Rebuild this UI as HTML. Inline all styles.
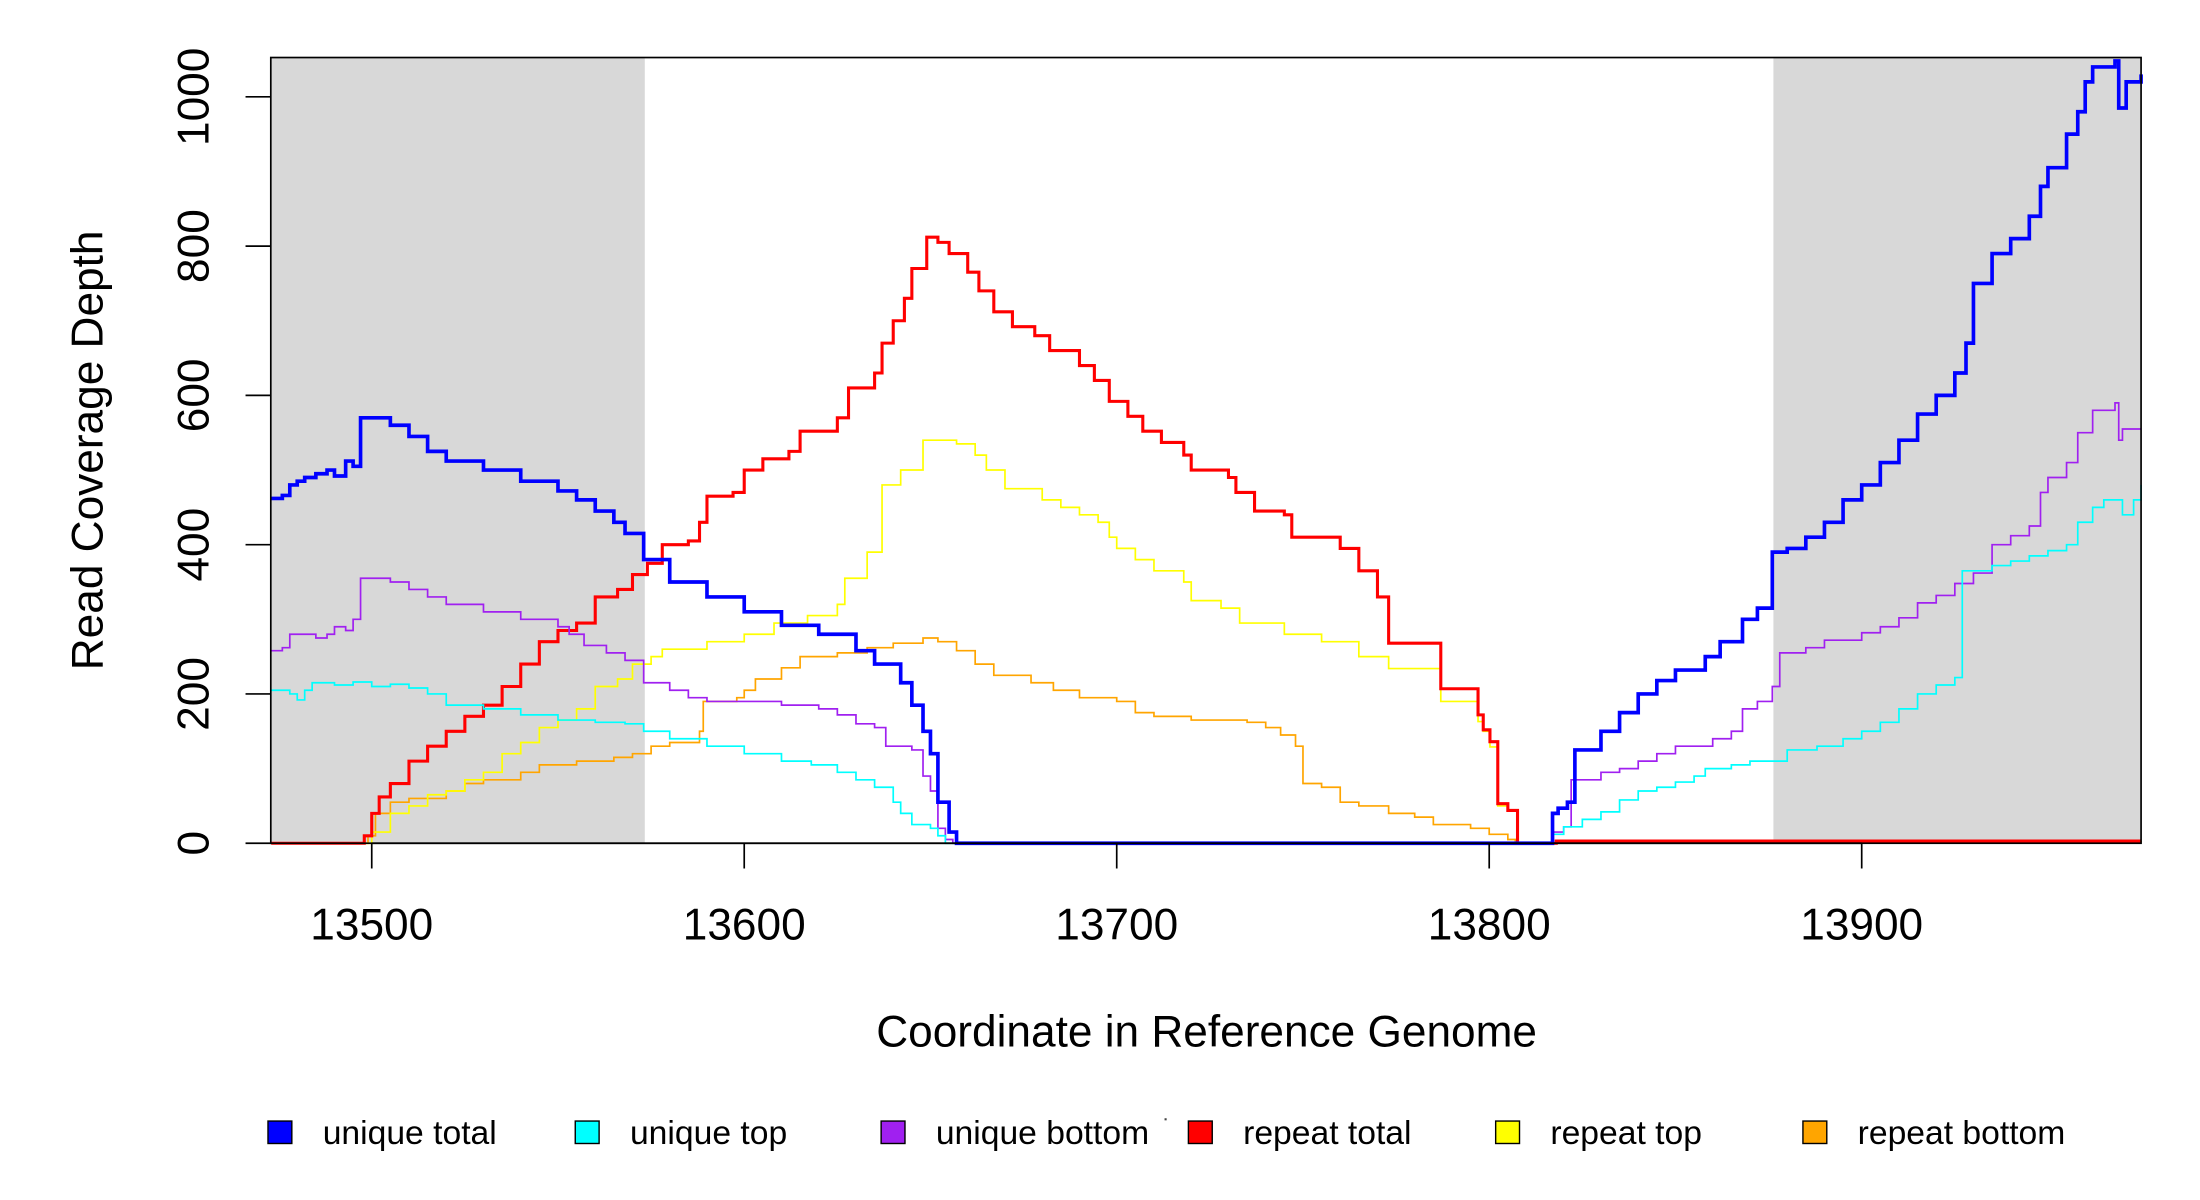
<!DOCTYPE html>
<html><head><meta charset="utf-8"><style>
html,body{margin:0;padding:0;background:#fff;}
svg{display:block;font-family:"Liberation Sans",Arial,sans-serif;}
</style></head><body>
<svg id="chart" width="2200" height="1200" viewBox="0 0 1568 855.27" xmlns="http://www.w3.org/2000/svg">
<g id="bg"></g><g id="series"></g><g id="axes"></g><g id="legend"></g>
</svg>
<script>
const xTicks=[13500,13600,13700,13800,13900];
const yTicks=[0,200,400,600,800,1000];
const shadedRegions=[[13473,13573.3],[13876.3,13975]];
const seriesNames=["unique total","unique top","unique bottom","repeat total","repeat top","repeat bottom"];
const seriesColors=["#0000ff","#00ffff","#a020f0","#ff0000","#ffff00","#ffa500"];
const uniqueTotalX=[13473,13476,13478,13480,13482,13485,13488,13490,13493,13495,13497,13505,13510,13515,13520,13530,13540,13550,13555,13560,13565,13568,13573,13580,13590,13600,13610,13620,13630,13635,13642,13645,13648,13650,13652,13655,13657,13817,13818.5,13821,13823,13830,13835,13840,13845,13850,13858,13862,13868,13872,13876,13880,13885,13890,13895,13900,13905,13910,13915,13920,13925,13928,13930,13935,13940,13945,13948,13950,13955,13958,13960,13962,13968,13969,13971,13975];
const uniqueTotalY=[462,466,480,485,490,495,500,492,512,505,570,560,545,525,512,500,485,472,460,445,430,415,380,350,330,310,292,280,258,240,215,185,150,120,55,15,0,40,47,55,125,150,175,200,218,232,250,270,300,315,390,395,410,430,460,480,510,540,575,600,630,670,750,790,810,840,880,905,950,980,1020,1040,1048,985,1020,1030];
const uniqueTopX=[13473,13478,13480,13482,13484,13490,13495,13500,13505,13510,13515,13520,13530,13540,13550,13560,13568,13573,13580,13590,13600,13610,13618,13625,13630,13635,13640,13642,13645,13650,13652,13654,13817,13820,13825,13830,13835,13840,13845,13850,13855,13858,13865,13870,13880,13888,13895,13900,13905,13910,13915,13920,13925,13927,13935,13940,13945,13950,13955,13958,13962,13965,13969,13970,13973,13975];
const uniqueTopY=[205,200,192,205,215,212,216,210,213,208,200,185,180,172,165,162,160,150,140,130,120,110,105,95,85,75,55,40,25,20,10,0,12,22,32,42,58,70,75,82,90,100,105,110,125,130,140,150,162,180,200,212,222,365,372,378,385,392,400,430,450,460,460,440,460,480];
const uniqueBottomX=[13473,13476,13478,13485,13488,13490,13493,13495,13497,13505,13510,13515,13520,13530,13540,13550,13553,13557,13563,13568,13573,13580,13585,13590,13600,13610,13620,13625,13630,13635,13638,13645,13648,13650,13652,13654,13656,13817,13820,13822,13830,13835,13840,13845,13850,13860,13865,13868,13872,13876,13878,13885,13890,13900,13905,13910,13915,13920,13925,13930,13935,13940,13945,13948,13950,13955,13958,13962,13968,13969,13970,13975];
const uniqueBottomY=[258,262,280,275,280,290,285,300,355,350,340,330,320,310,300,290,280,265,255,245,215,205,195,190,190,185,180,172,160,155,130,125,90,70,20,5,0,15,22,85,95,100,110,120,130,140,150,180,190,210,255,262,272,282,290,302,322,332,348,362,400,412,425,470,490,510,550,580,590,540,555,555];
const repeatTotalX=[13473,13498,13500,13502,13505,13510,13515,13520,13525,13530,13535,13540,13545,13550,13555,13560,13566,13570,13574,13578,13585,13588,13590,13597,13600,13605,13612,13615,13625,13628,13635,13637,13640,13643,13645,13649,13652,13655,13660,13663,13667,13672,13678,13682,13690,13694,13698,13703,13707,13712,13718,13720,13730,13732,13737,13745,13747,13760,13765,13770,13773,13787,13797,13798.4,13800.2,13802.3,13805,13807.6,13818,13975];
const repeatTotalY=[0,10,40,62,80,110,130,150,170,185,210,240,270,285,295,330,340,360,375,400,405,430,465,470,500,515,525,552,570,610,630,670,700,730,770,812,805,790,765,740,712,692,680,660,640,620,592,572,552,537,520,500,490,470,445,440,410,395,365,330,268,207,172,152,136,53,44,0,3,3];
const repeatTopX=[13473,13500,13505,13510,13515,13520,13525,13530,13535,13540,13545,13550,13555,13560,13566,13570,13575,13578,13590,13600,13608,13617,13625,13627,13633,13637,13642,13648,13657,13662,13665,13670,13680,13685,13690,13695,13698,13700,13705,13710,13718,13720,13728,13733,13745,13755,13765,13773,13787,13797,13798.4,13800.2,13802.3,13805,13807.6,13818,13975];
const repeatTopY=[0,15,40,50,65,70,85,95,120,135,155,165,180,210,220,240,250,260,270,280,295,305,320,355,390,480,500,540,535,520,500,475,460,450,440,430,410,395,380,365,350,325,315,295,280,270,250,234,190,163,150,129,50,43,0,2,2];
const repeatBottomX=[13473,13499,13501,13505,13510,13520,13525,13530,13540,13545,13555,13565,13570,13575,13580,13588,13589,13598,13600,13603,13610,13615,13625,13633,13640,13648,13652,13657,13662,13667,13677,13683,13690,13700,13705,13710,13720,13735,13740,13744,13748,13750,13755,13760,13765,13773,13780,13785,13795,13800,13805,13807,13818,13975];
const repeatBottomY=[0,10,40,55,60,70,80,85,95,105,110,115,120,130,135,150,190,195,205,220,235,250,255,262,268,275,270,258,240,225,215,205,195,190,175,170,165,162,155,145,130,80,75,55,50,40,35,25,20,12,5,0,2,1];

const NS="http://www.w3.org/2000/svg";
const PL=193,PR=1526,PT=41,PB=601;
const XMIN=13472.9,XMAX=13975;
function sx(v){return PL+(v-XMIN)/(XMAX-XMIN)*(PR-PL);}
function sy(v){return PB-v*0.532;}
function mk(tag,attrs,parent){const e=document.createElementNS(NS,tag);for(const k in attrs)e.setAttribute(k,attrs[k]);parent.appendChild(e);return e;}
const bg=document.getElementById('bg'),sg=document.getElementById('series'),ax=document.getElementById('axes'),lg=document.getElementById('legend');

shadedRegions.forEach((r,i)=>{
  const e=mk('rect',{x:sx(r[0]),y:PT,width:sx(r[1])-sx(r[0]),height:PB-PT,fill:'#d8d8d8'},bg);
  
  
});
const allX=[uniqueTotalX,uniqueTopX,uniqueBottomX,repeatTotalX,repeatTopX,repeatBottomX];
const allY=[uniqueTotalY,uniqueTopY,uniqueBottomY,repeatTotalY,repeatTopY,repeatBottomY];
const widths=[2.6,1.2,1.2,2.2,1.2,1.2];
const order=[5,4,3,2,1,0];
order.forEach(i=>{
  const xs=allX[i],ys=allY[i];
  const n=Math.min(xs.length,ys.length);
  let d='M'+sx(xs[0]).toFixed(2)+','+sy(ys[0]).toFixed(2);
  for(let k=1;k<n;k++){d+='H'+sx(xs[k]).toFixed(2)+'V'+sy(ys[k]).toFixed(2);}
  d+='H'+sx(XMAX).toFixed(2);
  const p=mk('path',{d:d,fill:'none',stroke:seriesColors[i],'stroke-width':widths[i],'stroke-linejoin':'miter'},sg);
  
  
});
const box=mk('rect',{x:PL,y:PT,width:PR-PL,height:PB-PT,fill:'none',stroke:'#000','stroke-width':1.2},ax);


mk('line',{x1:sx(xTicks[0]),x2:sx(xTicks[xTicks.length-1]),y1:PB,y2:PB,stroke:'#000','stroke-width':1.2},ax);
xTicks.forEach(t=>{
  const x=sx(t);
  mk('line',{x1:x,x2:x,y1:PB,y2:PB+18,stroke:'#000','stroke-width':1.2},ax);
  const tx=mk('text',{x:x,y:669.5,'font-size':31.5,'text-anchor':'middle',fill:'#000'},ax);
  tx.textContent=t;
  
  
});
yTicks.forEach(t=>{
  const y=sy(t);
  mk('line',{x1:PL-18,x2:PL,y1:y,y2:y,stroke:'#000','stroke-width':1.2},ax);
  const tx=mk('text',{x:0,y:0,'font-size':31.5,'text-anchor':'middle',fill:'#000',transform:'translate(148.5,'+y+') rotate(-90)'},ax);
  tx.textContent=t;
  
  
});
const yt=mk('text',{x:0,y:0,'font-size':31.5,'text-anchor':'middle',fill:'#000',transform:'translate(73,321) rotate(-90)'},ax);
yt.textContent='Read Coverage Depth';


const xt=mk('text',{x:860,y:746,'font-size':31.5,'text-anchor':'middle',fill:'#000'},ax);
xt.textContent='Coordinate in Reference Genome';



const legX=[191,410,628,847,1066,1285];
seriesNames.forEach((n,i)=>{
  const g=mk('g',{},lg);
  
  
  mk('rect',{x:legX[i],y:799,width:17,height:16,fill:seriesColors[i],stroke:'#000','stroke-width':1},g);
  const t=mk('text',{x:legX[i]+39,y:815.5,'font-size':24,fill:'#000'},g);
  t.textContent=n;
});
mk('rect',{x:830,y:797,width:1.5,height:1.5,fill:'#444'},lg);
</script>
</body></html>
